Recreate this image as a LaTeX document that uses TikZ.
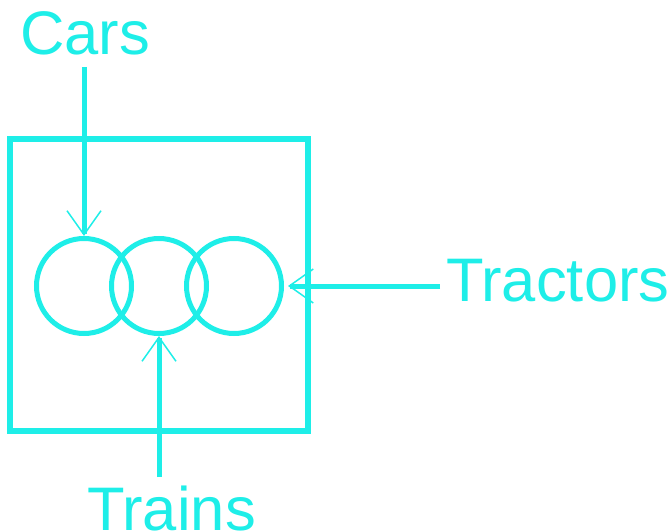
\documentclass[tikz,border=0pt]{standalone}
\usepackage{fontspec}
\setmainfont{Liberation Sans}
\usetikzlibrary{arrows.meta,positioning}
\definecolor{aqua}{RGB}{30,238,232}

\begin{document}
\begin{tikzpicture}[x=1pt,y=-1pt,
  every node/.style={text=aqua,inner sep=0pt,font=\fontsize{61.5}{72}\selectfont},
  ring/.style={draw=aqua,line width=5pt,circle,minimum size=95pt},
  feed/.style={draw=aqua,line width=5pt,-{Straight Barb[length=24pt,width=34pt,line width=1.5pt]}}]
\useasboundingbox (0,0) rectangle (670,532);
\draw[aqua,line width=5.5pt] (10,139) rectangle (308,431);
\node[ring] (c1) at (84,286) {};
\node[ring] (c2) at (159,286) {};
\node[ring] (c3) at (234,286) {};
\node[anchor=base west] (cars) at (20,55) {Cars};
\node[anchor=base west] (tractors) at (446,301) {Tractors};
\node[anchor=base west] (trains) at (87,530) {Trains};
\draw[feed] ([yshift=-12pt]cars.base -| c1.north) -- (c1.north);
\draw[feed] ([xshift=-6pt]tractors.west |- c3.east) -- ([xshift=4pt]c3.east);
\draw[feed] ([yshift=53pt]trains.base -| c2.south) -- (c2.south);
\end{tikzpicture}
\end{document}
